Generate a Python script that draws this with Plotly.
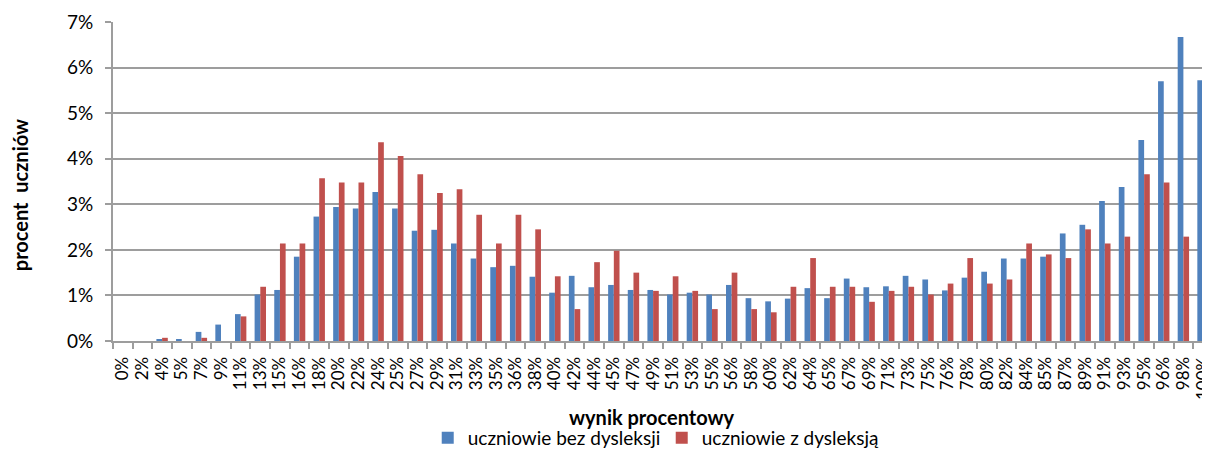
import plotly.graph_objects as go

categories = ["0%", "2%", "4%", "5%", "7%", "9%", "11%", "13%", "15%", "16%",
              "18%", "20%", "22%", "24%", "25%", "27%", "29%", "31%", "33%", "35%",
              "36%", "38%", "40%", "42%", "44%", "45%", "47%", "49%", "51%", "53%",
              "55%", "56%", "58%", "60%", "62%", "64%", "65%", "67%", "69%", "71%",
              "73%", "75%", "76%", "78%", "80%", "82%", "84%", "85%", "87%", "89%",
              "91%", "93%", "95%", "96%", "98%", "100%"]

bez_dysleksji = [0.0, 0.0, 0.04, 0.03, 0.20, 0.36, 0.59, 1.02, 1.12, 1.85,
                 2.73, 2.94, 2.91, 3.27, 2.91, 2.42, 2.44, 2.14, 1.81, 1.62,
                 1.65, 1.41, 1.06, 1.43, 1.18, 1.23, 1.12, 1.12, 1.02, 1.06,
                 1.02, 1.23, 0.94, 0.87, 0.93, 1.16, 0.94, 1.37, 1.18, 1.20,
                 1.43, 1.35, 1.11, 1.39, 1.52, 1.81, 1.81, 1.85, 2.36, 2.55,
                 3.07, 3.38, 4.41, 5.70, 6.67, 5.72]

z_dysleksja = [0.0, 0.0, 0.07, 0.0, 0.07, 0.0, 0.54, 1.19, 2.14, 2.14,
               3.57, 3.48, 3.48, 4.36, 4.06, 3.66, 3.25, 3.33, 2.77, 2.14,
               2.77, 2.45, 1.42, 0.70, 1.73, 1.98, 1.50, 1.10, 1.42, 1.10,
               0.70, 1.50, 0.70, 0.63, 1.19, 1.82, 1.19, 1.19, 0.86, 1.10,
               1.19, 1.02, 1.26, 1.82, 1.26, 1.35, 2.14, 1.90, 1.82, 2.45,
               2.14, 2.29, 3.66, 3.48, 2.29, None]

y_ticks = [0, 1, 2, 3, 4, 5, 6, 7]
y_tick_labels = ["0%", "1%", "2%", "3%", "4%", "5%", "6%", "7%"]

x_title = "wynik procentowy"
y_title = "procent  uczniów"

FONT = "Lato"
GRID = "#9d9d9d"

fig = go.Figure()
fig.add_trace(go.Bar(x=categories, y=bez_dysleksji, name="uczniowie bez dysleksji",
                     marker=dict(color="#4F81BD", line=dict(width=0))))
fig.add_trace(go.Bar(x=categories, y=z_dysleksja, name="uczniowie z dysleksją",
                     marker=dict(color="#C0504D", line=dict(width=0))))

fig.add_annotation(xref="paper", yref="paper", x=0.4915, y=-0.2385,
                   text="<b>" + x_title + "</b>", showarrow=False,
                   xanchor="center", yanchor="middle",
                   font=dict(family=FONT, size=20, color="#000"))
fig.add_annotation(xref="paper", yref="paper", x=0, y=0.457, xshift=-93,
                   text="<b>" + y_title + "</b>", showarrow=False, textangle=-90,
                   xanchor="center", yanchor="middle",
                   font=dict(family=FONT, size=20, color="#000"))

fig.update_layout(
    width=1210, height=449,
    margin=dict(l=105, r=8, t=14, b=116, autoexpand=False),
    paper_bgcolor="white", plot_bgcolor="white",
    barmode="group", bargap=0.42, bargroupgap=0,
    font=dict(family=FONT, color="#000"),
    showlegend=True,
    legend=dict(orientation="h", xref="paper", x=0.2869, xanchor="left",
                yref="container", y=0.0423, yanchor="middle",
                font=dict(family=FONT, size=19, color="#000"),
                entrywidth=189, entrywidthmode="pixels",
                traceorder="normal"),
    xaxis=dict(
        type="category", range=[-0.5, 55.355], dtick=1,
        tickangle=-90, tickfont=dict(family=FONT, size=17, color="#000"),
        ticks="outside", ticklen=6, tickcolor=GRID, tickwidth=2, tickson="boundaries",
        ticklabelstandoff=7,
        showline=True, linecolor=GRID, linewidth=2,
        showgrid=False,
    ),
    yaxis=dict(
        range=[0, 7], tickvals=y_ticks, ticktext=y_tick_labels,
        tickfont=dict(family=FONT, size=19, color="#000"),
        ticks="outside", ticklen=6, tickcolor=GRID, tickwidth=2, ticklabelstandoff=8,
        showline=True, linecolor=GRID, linewidth=2,
        showgrid=True, gridcolor=GRID, gridwidth=2,
        zeroline=False,
    ),
)

fig.write_html("out.html")
